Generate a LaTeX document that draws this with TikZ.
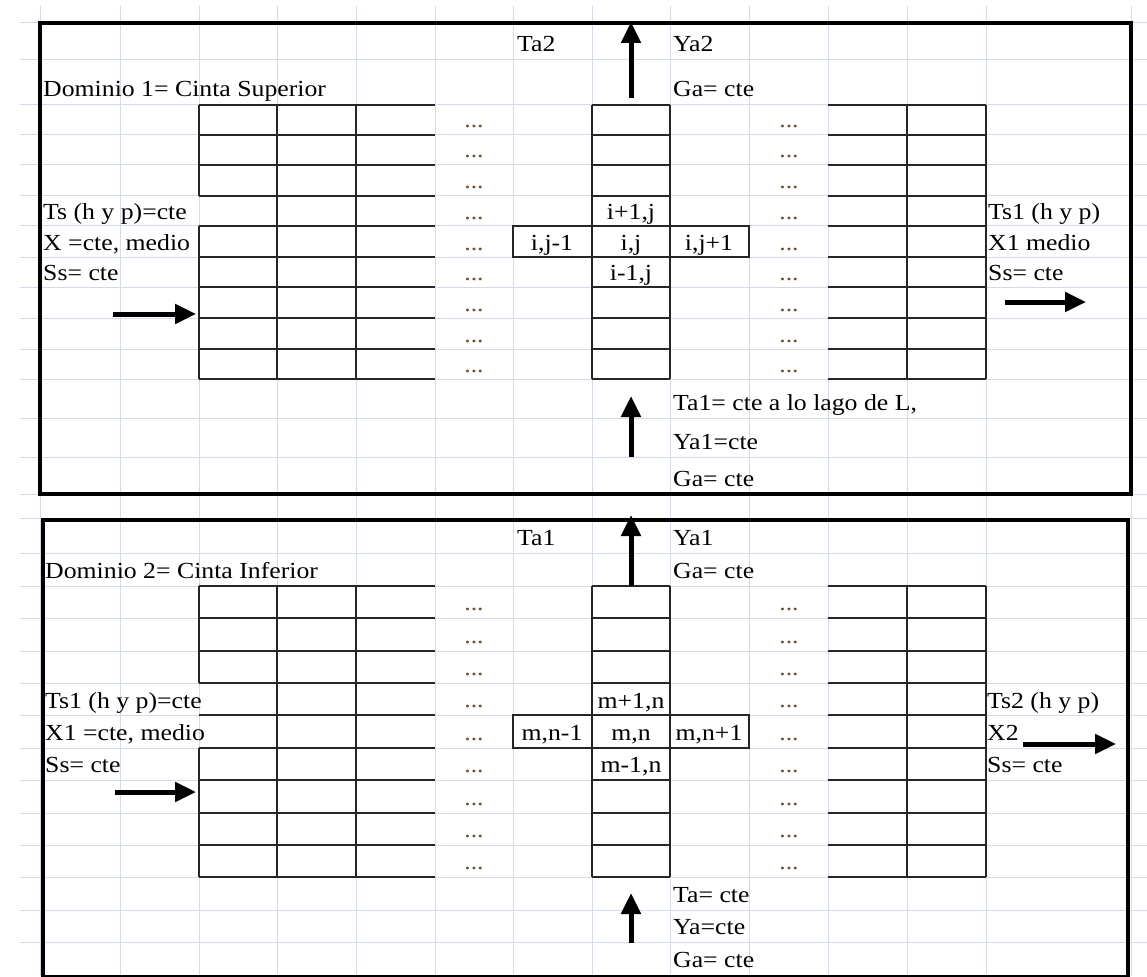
\documentclass[tikz,border=0pt]{standalone}
\usepackage{fontspec}
\setmainfont{Liberation Serif}[FakeStretch=1.12]
\usetikzlibrary{arrows.meta}
\definecolor{gridblue}{RGB}{212,218,232}
\definecolor{dotbrown}{RGB}{110,80,50}

\begin{document}
\begin{tikzpicture}[x=1pt, y=-1pt,
                    gridline/.style={gridblue, line width=1pt},
                    cellline/.style={black!85, line width=1.3pt},
                    frame/.style={black, line width=4.5pt},
                    flow/.style={-{Triangle[length=21pt,width=19pt]}, line width=5pt},
                    lbl/.style={anchor=base west, inner sep=0pt, font=\fontsize{23}{26}\selectfont},
                    cell/.style={anchor=base, inner sep=0pt, font=\fontsize{23}{26}\selectfont},
                    dotcell/.style={cell, text=dotbrown}]

    \useasboundingbox (0,0) rectangle (1147,976);

    % hoja de calculo de fondo
    \foreach \x in {40,120,199,277,356,435,513,592,670,749,828,907,986,1131}
        \draw[gridline] (\x,6) -- (\x,976);
    \foreach \y in {23,60,105,135,165,196,226,257,287,318,349,379,418,457,494,518,
                    553,586,618,651,683,715,748,780,813,845,877,910,942}
        \draw[gridline] (20,\y) -- (1147,\y);

    % Dominio 1
    \draw[frame] (40,23) rectangle (1131,494);
    \foreach \y in {105,135,165,196,226,257,287,318,349,379}
        \draw[cellline] (199,\y) -- (435,\y) (592,\y) -- (670,\y) (828,\y) -- (986,\y);
    \draw[cellline] (199,105) -- (199,196) (199,226) -- (199,379)
                    (277,105) -- (277,379) (356,105) -- (356,379)
                    (592,105) -- (592,379) (670,105) -- (670,379)
                    (907,105) -- (907,379) (986,105) -- (986,379);
    \draw[cellline] (513,226) rectangle (749,257);

    \foreach \y [count=\i] in {128,158,189,219,250,280,311,342,372} {
        \node[dotcell] (dl\i) at (474,\y) {...};
        \node[dotcell] (dr\i) at (789,\y) {...};
    }

    \node[lbl] (ta2)  at (517,52)  {Ta2};
    \node[lbl] (ya2)  at (673,52)  {Ya2};
    \node[lbl] (ga1)  at (673,97)  {Ga= cte};
    \node[lbl] (dom1) at (43,97)   {Dominio 1= Cinta Superior};
    \node[lbl] (ts)   at (43,219)  {Ts (h y p)=cte};
    \node[lbl] (x)    at (43,250)  {X =cte, medio};
    \node[lbl] (ss)   at (43,280)  {Ss= cte};
    \node[lbl] (ts1)  at (988,219) {Ts1 (h y p)};
    \node[lbl] (x1)   at (988,250) {X1 medio};
    \node[lbl] (ss1)  at (988,280) {Ss= cte};
    \node[lbl] (ta1)  at (673,410) {Ta1= cte a lo lago de L,};
    \node[lbl] (ya1)  at (673,449) {Ya1=cte};
    \node[lbl] (ga1b) at (673,486) {Ga= cte};

    \node[cell] (ip)  at (631,219) {i+1,j};
    \node[cell] (jm)  at (552,250) {i,j-1};
    \node[cell] (ij)  at (631,250) {i,j};
    \node[cell] (jp)  at (709,250) {i,j+1};
    \node[cell] (im)  at (631,280) {i-1,j};

    \coordinate (a1s) at (631,98);   \coordinate (a1e) at (631,22);
    \coordinate (a2s) at (113,314);  \coordinate (a2e) at (196,314);
    \coordinate (a3s) at (1005,302); \coordinate (a3e) at (1086,302);
    \coordinate (a4s) at (631,457);  \coordinate (a4e) at (631,396);
    \draw[flow] (a1s) -- (a1e);
    \draw[flow] (a2s) -- (a2e);
    \draw[flow] (a3s) -- (a3e);
    \draw[flow] (a4s) -- (a4e);

    % Dominio 2
    \draw[frame] (43,520) rectangle (1128,977);
    \foreach \y in {586,618,651,683,715,748,780,813,845,877}
        \draw[cellline] (199,\y) -- (435,\y) (592,\y) -- (670,\y) (828,\y) -- (986,\y);
    \draw[cellline] (199,586) -- (199,683) (199,748) -- (199,877)
                    (277,586) -- (277,877) (356,586) -- (356,877)
                    (592,586) -- (592,877) (670,586) -- (670,877)
                    (907,586) -- (907,877) (986,586) -- (986,877);
    \draw[cellline] (513,715) rectangle (749,748);

    \foreach \y [count=\i] in {610,643,675,707,740,772,805,837,869} {
        \node[dotcell] (el\i) at (474,\y) {...};
        \node[dotcell] (er\i) at (789,\y) {...};
    }

    \node[lbl] (tb1)  at (517,545) {Ta1};
    \node[lbl] (yb1)  at (673,545) {Ya1};
    \node[lbl] (gb1)  at (673,578) {Ga= cte};
    \node[lbl] (dom2) at (45,578)  {Dominio 2= Cinta Inferior};
    \node[lbl] (tsb)  at (45,708)  {Ts1 (h y p)=cte};
    \node[lbl] (xb)   at (45,740)  {X1 =cte, medio};
    \node[lbl] (ssb)  at (45,772)  {Ss= cte};
    \node[lbl] (ts2)  at (987,708) {Ts2 (h y p)};
    \node[lbl] (x2)   at (987,740) {X2};
    \node[lbl] (ss2)  at (987,772) {Ss= cte};
    \node[lbl] (ta)   at (673,902) {Ta= cte};
    \node[lbl] (ya)   at (673,934) {Ya=cte};
    \node[lbl] (ga)   at (673,967) {Ga= cte};

    \node[cell] (mp)  at (631,708) {m+1,n};
    \node[cell] (nm)  at (552,740) {m,n-1};
    \node[cell] (mn)  at (631,740) {m,n};
    \node[cell] (np)  at (709,740) {m,n+1};
    \node[cell] (mm)  at (631,772) {m-1,n};

    \coordinate (b1s) at (631,586);  \coordinate (b1e) at (631,515);
    \coordinate (b2s) at (115,792);  \coordinate (b2e) at (196,792);
    \coordinate (b3s) at (1023,744); \coordinate (b3e) at (1116,744);
    \coordinate (b4s) at (631,943);  \coordinate (b4e) at (631,893);
    \draw[flow] (b1s) -- (b1e);
    \draw[flow] (b2s) -- (b2e);
    \draw[flow] (b3s) -- (b3e);
    \draw[flow] (b4s) -- (b4e);

\end{tikzpicture}
\end{document}
